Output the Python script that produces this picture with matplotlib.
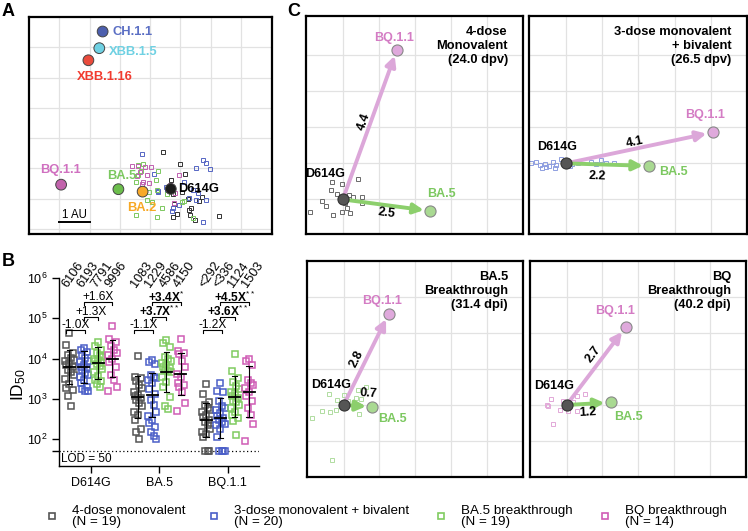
import numpy as np
import matplotlib
matplotlib.use('Agg')
import matplotlib.pyplot as plt
import matplotlib.ticker as mticker

plt.rcParams['font.family'] = ['Liberation Sans', 'DejaVu Sans']
plt.rcParams['mathtext.fontset'] = 'custom'
plt.rcParams['mathtext.rm'] = 'Liberation Sans'
plt.rcParams['mathtext.it'] = 'Liberation Sans:italic'
plt.rcParams['mathtext.bf'] = 'Liberation Sans:bold'

# ======================= DATA =======================
# ---- Panel A: antigenic map (antigen units) ----
antigens = ['CH.1.1', 'XBB.1.5', 'XBB.1.16', 'BQ.1.1', 'BA.5', 'BA.2', 'D614G']
antigen_x = [2.43, 2.32, 1.96, 1.06, 2.95, 3.75, 4.68]
antigen_y = [6.52, 5.97, 5.57, 1.46, 1.31, 1.23, 1.32]
antigen_fill = ['#4c5fae', '#6fd1e3', '#ea4b3c', '#c263ac', '#6cbe4c', '#f8a92a', '#1c1c1c']
antigen_textcolor = ['#5b6fc4', '#6fd1e3', '#f23b2f', '#d070c0', '#7cc860', '#f7a825', '#000000']

sera_black_x = [4.41, 4.98, 5.16, 4.60, 5.04, 4.76, 4.80, 5.26, 5.35, 5.62, 5.72, 5.31, 4.74, 4.87, 5.29, 5.47, 6.28, 4.70, 5.55]
sera_black_y = [2.53, 2.14, 1.81, 1.35, 1.23, 1.15, 0.82, 0.99, 0.69, 0.92, 1.06, 0.47, 0.38, 0.49, 0.63, 0.30, 0.41, 1.60, 1.30]
sera_blue_x = [3.74, 4.14, 4.25, 4.54, 4.27, 5.50, 5.75, 5.83, 5.96, 5.29, 5.51, 5.83, 5.75, 4.76, 4.71, 5.59, 5.42, 4.53, 5.10, 4.95]
sera_blue_y = [2.47, 1.81, 1.26, 1.29, 1.23, 2.01, 2.26, 2.19, 1.98, 1.02, 0.96, 0.95, 0.24, 0.69, 0.58, 1.18, 1.27, 1.37, 1.55, 0.80]
sera_green_x = [3.61, 3.76, 4.27, 3.53, 3.59, 3.96, 4.05, 4.21, 4.38, 4.21, 3.53, 3.88, 5.04, 5.10, 5.42, 4.54, 4.60, 4.18, 3.70]
sera_green_y = [2.12, 2.13, 1.92, 1.54, 1.77, 1.23, 0.88, 1.29, 0.69, 0.39, 0.47, 0.96, 0.90, 0.92, 0.36, 1.16, 1.35, 1.62, 1.90]
sera_pink_x = [3.41, 3.60, 3.84, 4.02, 3.88, 3.75, 3.97, 4.95, 4.65, 4.82, 4.79, 3.74, 3.57, 3.66]
sera_pink_y = [2.09, 2.09, 2.06, 2.04, 1.79, 1.54, 1.53, 1.77, 1.46, 1.18, 0.85, 1.49, 1.73, 1.87]

# ---- Panel B: ID50 titers ----
variants_b = ['D614G', 'BA.5', 'BQ.1.1']
groups = ['4-dose monovalent', '3-dose monovalent + bivalent', 'BA.5 breakthrough', 'BQ breakthrough']

d614g_g1 = [42000, 21900, 14100, 12300, 10500, 9300, 8500, 7900, 6900, 6300, 5200, 4600, 4000, 3100, 2300, 1800, 1660, 1200, 650]
d614g_g2 = [18000, 16500, 14500, 12500, 10500, 8500, 8000, 6900, 6300, 5800, 5200, 4400, 3800, 3500, 3000, 2500, 2000, 1700, 1600, 1550]
d614g_g3 = [26000, 21000, 16500, 14000, 12500, 11000, 10000, 9300, 8500, 8000, 7500, 6500, 5500, 4500, 3700, 3000, 2700, 2300, 2000]
d614g_g4 = [66000, 31000, 26000, 20000, 16000, 14000, 12000, 10000, 8000, 6000, 4000, 3000, 2000, 1600]

ba5_g1 = [11700, 3500, 3200, 2700, 2200, 1800, 1500, 1250, 1150, 1050, 950, 800, 650, 480, 400, 300, 180, 150, 100]
ba5_g2 = [9000, 8000, 7200, 3800, 3500, 3200, 3000, 2500, 1700, 1300, 950, 700, 480, 380, 300, 250, 200, 150, 120, 100]
ba5_g3 = [29000, 24000, 19000, 11000, 10000, 8500, 7800, 7000, 6300, 5800, 5200, 5000, 4500, 3500, 2600, 2000, 1100, 650, 550]
ba5_g4 = [30000, 15000, 14000, 13000, 8500, 6000, 4200, 3500, 2500, 2200, 2000, 1500, 800, 500]

bq_g1 = [2300, 1350, 850, 700, 580, 520, 460, 400, 350, 300, 270, 220, 180, 150, 130, 110, 50, 50, 50]
bq_g2 = [2500, 1600, 1500, 900, 650, 600, 520, 450, 380, 330, 290, 260, 240, 220, 180, 110, 50, 50, 50, 50]
bq_g3 = [13000, 5000, 3200, 2600, 2100, 1700, 1500, 1400, 1200, 1050, 900, 850, 700, 580, 480, 400, 330, 280, 125]
bq_g4 = [9500, 8500, 7000, 3000, 2500, 2200, 1800, 1500, 1200, 900, 580, 400, 240, 90]

gmt_d614g = [6106, 6193, 7791, 9996]
gmt_ba5 = [1083, 1229, 4586, 4150]
gmt_bq = [292, 336, 1124, 1503]
gmt_prefix_bq = ['<', '<', '', '']
sd_d614g = [0.43, 0.39, 0.40, 0.46]
sd_ba5 = [0.52, 0.54, 0.50, 0.53]
sd_bq = [0.42, 0.50, 0.51, 0.64]

fold_d614g = ['-1.0X', '+1.3X', '+1.6X']
fold_ba5 = ['-1.1X', '+3.7X', '+3.4X']
fold_bq = ['-1.2X', '+3.6X', '+4.5X']
stars_d614g = ['', '', '']
stars_ba5 = ['', '**', '*']
stars_bq = ['', '**', '**']
LOD = 50

# ---- Panel C: per-cohort maps (antigen units) ----
c_titles = ['4-dose\nMonovalent\n(24.0 dpv)', '3-dose monovalent\n+ bivalent\n(26.5 dpv)',
            'BA.5\nBreakthrough\n(31.4 dpi)', 'BQ\nBreakthrough\n(40.2 dpi)']
c_d614g = [(0.0, 0.0), (0.0, 1.0), (0.0, 1.0), (0.0, 1.0)]
c_ba5 = [(2.42, -0.32), (2.30, 0.93), (0.80, 0.95), (1.23, 1.07)]
c_bq = [(1.50, 4.15), (4.05, 1.86), (1.26, 3.54), (1.65, 3.17)]
c_dist_ba5 = [2.5, 2.2, 0.7, 1.2]
c_dist_bq = [4.4, 4.1, 2.8, 2.7]

c1_sq_x = [-0.29, -0.01, -0.33, 0.41, 0.17, 0.53, -0.57, -0.47, -0.26, -0.03, 0.11, 0.20, -0.91, 0.53, 0.28, -0.15, 0.05]
c1_sq_y = [0.47, 0.42, 0.26, 0.56, 0.12, 0.07, -0.05, -0.19, -0.42, -0.36, -0.25, -0.39, -0.35, -0.11, 0.08, 0.15, -0.10]
c2_sq_x = [-0.97, -0.83, -0.72, -0.57, -0.46, -0.37, -0.28, -0.14, 0.18, 0.32, 0.69, 0.83, 0.97, 1.11, 1.34, -0.65, -0.55, -0.31, 0.03, 0.12]
c2_sq_y = [1.00, 1.05, 0.95, 0.98, 0.93, 1.05, 0.95, 1.11, 0.97, 1.00, 1.05, 0.97, 1.09, 1.00, 1.01, 0.86, 0.90, 0.88, 1.05, 0.92]
c3_sq_x = [-0.42, 0.02, 0.39, 0.62, 0.34, 0.48, -0.60, -0.37, -0.21, 0.43, -0.88, -0.17, 0.13, -0.31]
c3_sq_y = [1.31, 1.29, 1.43, 1.49, 1.19, 1.17, 0.82, 0.80, 0.85, 0.76, 0.64, 1.15, 1.10, -0.52]
c4_sq_x = [-0.44, -0.53, -0.19, 0.05, 0.28, 0.51, 0.29, -0.37, -0.56, 0.19, -0.10]
c4_sq_y = [1.18, 0.96, 0.87, 0.82, 0.82, 1.31, 1.24, 0.47, 1.00, 1.08, 1.10]

# ======================= FIGURE =======================
W, H = 748, 531
fig = plt.figure(figsize=(W / 100, H / 100), dpi=100)


def axpx(l, t, r, b, **kw):
    return fig.add_axes([l / W, 1 - b / H, (r - l) / W, (b - t) / H], **kw)


GRID = '#e2e2e2'

# ---------------- Panel A ----------------
axA = axpx(29, 17, 272, 234)
axA.set_xlim(0, 8.02)
axA.set_ylim(-0.17, 7.0)
axA.set_xticks(range(1, 8))
axA.set_yticks(range(0, 7))
axA.grid(True, color=GRID, lw=0.9)
axA.set_axisbelow(True)
axA.tick_params(length=0, labelbottom=False, labelleft=False)
for s in axA.spines.values():
    s.set_linewidth(1.6)

sq_cols_A = ['#333333', '#5566c4', '#7cc860', '#c060b0']
for (xs, ys), col in zip([(sera_black_x, sera_black_y), (sera_blue_x, sera_blue_y),
                          (sera_green_x, sera_green_y), (sera_pink_x, sera_pink_y)], sq_cols_A):
    axA.plot(xs, ys, 's', mfc='none', mec=col, ms=3.0, mew=0.7, zorder=3)

axA.scatter(antigen_x, antigen_y, s=60, c=antigen_fill, edgecolors='#444444', linewidths=0.7, zorder=5)

a_label_off = {'CH.1.1': (0.34, 0.0, 'left'), 'XBB.1.5': (0.33, -0.14, 'left'),
               'XBB.1.16': (0.54, -0.56, 'center'), 'BQ.1.1': (-0.02, 0.47, 'center'),
               'BA.5': (0.10, 0.45, 'center'), 'BA.2': (-0.04, -0.54, 'center'),
               'D614G': (0.25, 0.0, 'left')}
for name, x, y, tc in zip(antigens, antigen_x, antigen_y, antigen_textcolor):
    dx, dy, ha = a_label_off[name]
    axA.text(x + dx, y + dy, name, color=tc, fontsize=9.3, fontweight='bold',
             ha=ha, va='center', zorder=6)

axA.plot([1, 2], [0.22, 0.22], color='k', lw=1.4)
axA.text(1.5, 0.27, '1 AU', ha='center', va='bottom', fontsize=8.3)

# ---------------- Panel B ----------------
axB = axpx(59, 278, 259, 466)
axB.set_yscale('log')
axB.set_ylim(10 ** 1.33, 1e6)
axB.set_xlim(-0.468, 2.46)
for s in ['top', 'right']:
    axB.spines[s].set_visible(False)
for s in ['left', 'bottom']:
    axB.spines[s].set_linewidth(1.0)

group_cols_B = ['#555555', '#4b5fc8', '#80cc60', '#d05cb5']
titers = [[d614g_g1, d614g_g2, d614g_g3, d614g_g4],
          [ba5_g1, ba5_g2, ba5_g3, ba5_g4],
          [bq_g1, bq_g2, bq_g3, bq_g4]]
gmts = [gmt_d614g, gmt_ba5, gmt_bq]
prefixes = [['', '', '', ''], ['', '', '', ''], gmt_prefix_bq]
sds = [sd_d614g, sd_ba5, sd_bq]
folds = [fold_d614g, fold_ba5, fold_bq]
stars = [stars_d614g, stars_ba5, stars_bq]
offsets = [-0.315, -0.105, 0.105, 0.315]
jit = [0.0, -0.045, 0.045, -0.022, 0.022, 0.06, -0.06]

axB.axhline(LOD, color='k', lw=0.9, ls=(0, (1, 2)), zorder=1)
axB.text(-0.44, 10 ** 1.5, 'LOD = 50', fontsize=8.5, ha='left', va='center')

for vi in range(3):
    for gi in range(4):
        xc = vi + offsets[gi]
        v = np.sort(np.array(titers[vi][gi], dtype=float))[::-1]
        xs = xc + np.array([jit[i % len(jit)] for i in range(len(v))])
        axB.plot(xs, v, 's', mfc='none', mec=group_cols_B[gi], ms=4.6, mew=1.1, zorder=2, clip_on=False)
        gm = gmts[vi][gi]
        sd = sds[vi][gi]
        lo, hi = gm / 10 ** sd, gm * 10 ** sd
        axB.plot([xc - 0.08, xc + 0.08], [gm, gm], color='k', lw=1.3, zorder=4)
        axB.plot([xc, xc], [lo, hi], color='k', lw=0.8, zorder=4)
        for yy in (lo, hi):
            axB.plot([xc - 0.04, xc + 0.04], [yy, yy], color='k', lw=0.8, zorder=4)
        axB.text(xc + 0.01, 10 ** 5.72, f'{prefixes[vi][gi]}{gm}', rotation=55,
                 rotation_mode='anchor', ha='left', va='bottom', fontsize=9.2)
    # fold-change brackets relative to group 2 (bivalent)
    pairs = [(0, 1), (1, 2), (1, 3)]
    levels = [10 ** 4.70, 10 ** 5.03, 10 ** 5.40]
    for k, ((g1, g2), yl) in enumerate(zip(pairs, levels)):
        x1 = vi + offsets[g1] - (0.05 if g1 == 0 else 0.0)
        x2 = vi + offsets[g2] + (0.02 if g1 == 0 else 0.0)
        tick = 10 ** -0.07
        axB.plot([x1, x1, x2, x2], [yl * tick, yl, yl, yl * tick], color='k', lw=0.8)
        bold = stars[vi][k] != '' or (vi > 0 and k > 0)
        label = folds[vi][k] + (f'$^{{{stars[vi][k]}}}$' if stars[vi][k] else '')
        axB.text((x1 + x2) / 2, yl * 10 ** 0.13, label, ha='center', va='center',
                 fontsize=8.6, fontweight='bold' if bold else 'normal')

axB.set_xticks([0, 1, 2])
axB.set_xticklabels(variants_b, fontsize=9)
axB.set_yticks([1e2, 1e3, 1e4, 1e5, 1e6])
axB.yaxis.set_major_formatter(mticker.FuncFormatter(lambda v, p: f'$10^{{{int(round(np.log10(v)))}}}$'))
axB.yaxis.set_minor_locator(mticker.FixedLocator([LOD]))
axB.yaxis.set_minor_formatter(mticker.NullFormatter())
axB.tick_params(axis='y', which='major', labelsize=9, length=5, width=1.0)
axB.tick_params(axis='y', which='minor', length=5, width=1.0)
axB.tick_params(axis='x', length=5, width=1.0, pad=3)
axB.set_ylabel('ID$_{50}$', fontsize=12.5)
axB.yaxis.set_label_coords(-0.155, 0.43)

# ---------------- Panel C ----------------
c_rects = [(306, 16, 523, 234), (529, 16, 747, 234), (307, 261, 523, 477), (530, 261, 746, 477)]
c_ylims = [(-0.96, 5.09), (-0.96, 5.09), (-1.0, 5.0), (-1.0, 5.0)]
c_sq = [(c1_sq_x, c1_sq_y), (c2_sq_x, c2_sq_y), (c3_sq_x, c3_sq_y), (c4_sq_x, c4_sq_y)]
c_sq_cols = ['#6a6a6a', '#8e9ee0', '#b0dca0', '#e2a8d8']
# label layout (data coords of label centres)
c_lab_d = [(-0.50, 0.70), (-0.25, 1.46), (-0.34, 1.56), (-0.35, 1.52)]
c_lab_ba5 = [(2.75, 0.15), (2.96, 0.77), (1.36, 0.62), (1.71, 0.68)]
c_lab_bq = [(1.41, 4.47), (3.84, 2.34), (1.08, 3.88), (1.35, 3.60)]
c_num_bq = [(0.59, 2.16), (1.90, 1.60), (0.37, 2.28), (0.76, 2.40)]
c_num_ba5 = [(1.22, -0.39), (0.88, 0.63), (0.68, 1.31), (0.59, 0.78)]

PINK_ARROW = '#dca7d9'
GREEN_ARROW = '#8ccf6c'

for i in range(4):
    ax = axpx(*c_rects[i])
    ax.set_xlim(-1.02, 5.0)
    ax.set_ylim(*c_ylims[i])
    ax.set_xticks(range(0, 5))
    ax.set_yticks(range(0, 5))
    ax.grid(True, color=GRID, lw=0.9)
    ax.set_axisbelow(True)
    ax.tick_params(length=0, labelbottom=False, labelleft=False)
    for s in ax.spines.values():
        s.set_linewidth(1.6)
    sx, sy = c_sq[i]
    ax.plot(sx, sy, 's', mfc='none', mec=c_sq_cols[i], ms=3.3, mew=0.7, zorder=2)
    d = c_d614g[i]
    for tgt, col in [(c_bq[i], PINK_ARROW), (c_ba5[i], GREEN_ARROW)]:
        ax.annotate('', xy=tgt, xytext=d,
                    arrowprops=dict(arrowstyle='-|>,head_length=0.5,head_width=0.25',
                                    color=col, lw=2.8, shrinkA=0, shrinkB=4.5,
                                    mutation_scale=12), zorder=3)
    ax.plot(*c_ba5[i], 'o', ms=8, mfc='#a9d992', mec='#888888', mew=0.8, zorder=5)
    ax.plot(*c_bq[i], 'o', ms=8, mfc='#dfa9dc', mec='#888888', mew=0.8, zorder=5)
    ax.plot(*d, 'o', ms=8, mfc='#555555', mec='#333333', mew=0.8, zorder=6)

    ax.text(*c_lab_d[i], 'D614G', fontsize=9, fontweight='bold', ha='center', va='center', zorder=7)
    ax.text(*c_lab_ba5[i], 'BA.5', fontsize=9, fontweight='bold', color='#7cc860',
            ha='center', va='center', zorder=7)
    ax.text(*c_lab_bq[i], 'BQ.1.1', fontsize=9, fontweight='bold', color='#d47cc4',
            ha='center', va='center', zorder=7)
    ang_bq = np.degrees(np.arctan2(c_bq[i][1] - d[1], c_bq[i][0] - d[0]))
    ang_ba5 = np.degrees(np.arctan2(c_ba5[i][1] - d[1], c_ba5[i][0] - d[0]))
    ax.text(*c_num_bq[i], f'{c_dist_bq[i]:.1f}', fontsize=9, fontweight='bold',
            rotation=ang_bq, rotation_mode='anchor', ha='center', va='center', zorder=7)
    ax.text(*c_num_ba5[i], f'{c_dist_ba5[i]:.1f}', fontsize=9, fontweight='bold',
            rotation=ang_ba5, rotation_mode='anchor', ha='center', va='center', zorder=7)
    ax.text(0.93, 0.955, c_titles[i], transform=ax.transAxes, ha='right', va='top',
            fontsize=9.3, fontweight='bold', linespacing=1.25, zorder=7)

# ---------------- Panel letters ----------------
fig.text(8 / W, 1 - 12 / H, 'A', fontsize=13, fontweight='bold', ha='center', va='center')
fig.text(8 / W, 1 - 261 / H, 'B', fontsize=13, fontweight='bold', ha='center', va='center')
fig.text(294 / W, 1 - 12 / H, 'C', fontsize=13, fontweight='bold', ha='center', va='center')

# ---------------- Legend ----------------
axL = fig.add_axes([0, 0, 1, 1], zorder=-1)
axL.set_xlim(0, W)
axL.set_ylim(H, 0)
axL.axis('off')
leg_marker_x = [52, 214, 441, 605]
leg_counts = [len(d614g_g1), len(d614g_g2), len(d614g_g3), len(d614g_g4)]
for gi in range(4):
    axL.plot(leg_marker_x[gi], 516, 's', mfc='none', mec=group_cols_B[gi], ms=5, mew=1.2)
    axL.text(leg_marker_x[gi] + 20, 516.5, f'{groups[gi]}\n(N = {leg_counts[gi]})',
             fontsize=9.6, ha='left', va='center', linespacing=0.95)

fig.savefig('out.png', dpi=100)
